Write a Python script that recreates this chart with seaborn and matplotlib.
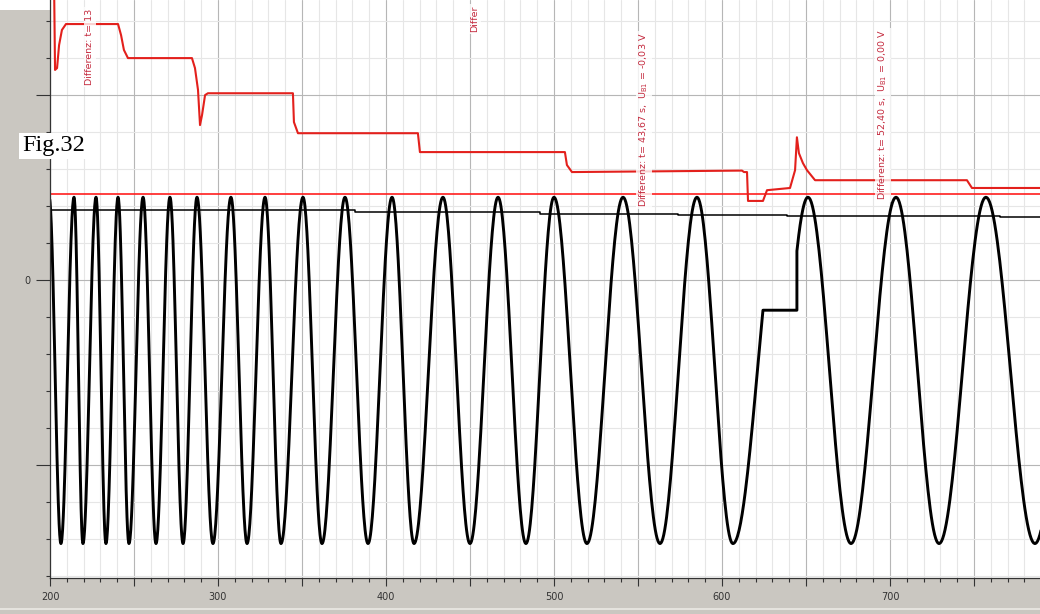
import numpy as np
import matplotlib
matplotlib.use("Agg")
import matplotlib.pyplot as plt
import seaborn as sns
from matplotlib.ticker import MultipleLocator, FuncFormatter
from matplotlib.patches import Rectangle
from matplotlib.lines import Line2D

# ---------------- data ----------------
# times of the oscillation extrema (peak, trough, peak, ...)
wave_ext_t = [199.5, 206.5, 214.3, 219.6, 227.4, 233.3, 240.5, 247.0, 255.4, 263.1,
              271.4, 279.2, 287.5, 297.0, 307.7, 317.3, 328.0, 337.5, 350.6, 361.9,
              375.6, 389.3, 403.6, 416.7, 433.9, 450.0, 466.7, 483.3, 500.0, 519.6,
              541.1, 563.1, 585.1, 606.5, 651.2, 676.8, 703.6, 729.2, 757.1, 786.3, 815.0]
wave_peak = 2.24
wave_trough = -7.12
# data dropout during one rising flank (signal held, then resumed)
dropout_start, dropout_end = 624.4, 644.6
dropout_rise_half = 29.2

# red step trace (upper)
red_t = [202.4, 203.0, 204.2, 205.4, 207.1, 209.5, 240.5, 242.3, 244.0, 246.4,
         284.5, 286.3, 288.1, 289.3, 290.5, 292.3, 294.0, 344.6, 345.2, 347.6,
         419.0, 420.2, 506.5, 507.7, 510.7, 611.9, 613.1, 614.9, 615.5, 624.4,
         626.8, 640.5, 643.5, 644.6, 645.8, 648.2, 650.6, 655.4, 745.8, 748.8, 789.3]
red_v = [8.11, 5.68, 5.73, 6.35, 6.76, 6.92, 6.92, 6.62, 6.22, 6.00,
         6.00, 5.73, 5.14, 4.19, 4.46, 5.00, 5.05, 5.05, 4.27, 3.97,
         3.97, 3.46, 3.46, 3.11, 2.92, 2.96, 2.92, 2.92, 2.14, 2.14,
         2.43, 2.49, 2.97, 3.86, 3.43, 3.16, 2.97, 2.70, 2.70, 2.49, 2.49]

# red horizontal reference level
red_level_t = [200.0, 789.3]
red_level_v = [2.33, 2.33]

# black slowly drifting level (stepwise)
black_level_t = [200.0, 381.5, 491.7, 573.8, 638.7, 765.5, 789.3]
black_level_v = [1.89, 1.84, 1.78, 1.76, 1.73, 1.70, 1.70]

# cursor annotations: (x, y_bottom, text)
ann_x = [223.8, 453.0, 553.6, 695.8]
ann_y = [5.27, 6.70, 1.97, 2.16]
ann_text = ["Differenz: t= 13",
            "Differ",
            "Differenz: t= 43,67 s,  U$_{\\mathrm{B1}}$ = -0,03 V",
            "Differenz: t= 52,40 s,  U$_{\\mathrm{B1}}$ = 0,00 V"]

x_min, x_max = 200.0, 789.3
y_min, y_max = -8.05, 7.57

# ---------------- build oscillation curve from extrema ----------------
wave_ext_v = [wave_peak if i % 2 == 0 else wave_trough for i in range(len(wave_ext_t))]
wt, wy = [], []
for i in range(len(wave_ext_t) - 1):
    t0, t1 = wave_ext_t[i], wave_ext_t[i + 1]
    v0, v1 = wave_ext_v[i], wave_ext_v[i + 1]
    if t0 < dropout_start < t1:
        tt = np.linspace(t0, dropout_start, 40)
        yy = v0 + (v1 - v0) * (1 - np.cos(np.pi * (tt - t0) / dropout_rise_half)) / 2
        hold = yy[-1]
        wt += list(tt) + [dropout_end]
        wy += list(yy) + [hold]
        h = wave_ext_t[i + 2] - t1
        tt = np.linspace(dropout_end, t1, 25)
        yy = v0 + (v1 - v0) * (1 + np.cos(np.pi * (t1 - tt) / h)) / 2
        wt += list(tt)
        wy += list(yy)
    else:
        tt = np.linspace(t0, t1, 40)
        yy = v0 + (v1 - v0) * (1 - np.cos(np.pi * (tt - t0) / (t1 - t0))) / 2
        wt += list(tt)
        wy += list(yy)
wt = np.array(wt)
wy = np.array(wy)

# ---------------- figure ----------------
sns.set_theme(style="white")
plt.rcParams['font.family'] = ['DejaVu Sans']

W, H = 1040, 614
bg = "#cac7c1"
fig = plt.figure(figsize=(W / 100, H / 100), dpi=100, facecolor=bg)
ax = fig.add_axes([50 / W, 1 - 578 / H, 1 - 50 / W, 578 / H])
ax.set_facecolor("white")

ax.set_xlim(x_min, x_max)
ax.set_ylim(y_min, y_max)

ax.xaxis.set_major_locator(MultipleLocator(50))
ax.xaxis.set_minor_locator(MultipleLocator(10))
ax.xaxis.set_major_formatter(FuncFormatter(lambda v, p: f"{int(round(v))}" if round(v) % 100 == 0 else ""))
ax.yaxis.set_major_locator(MultipleLocator(5))
ax.yaxis.set_minor_locator(MultipleLocator(1))
ax.yaxis.set_major_formatter(FuncFormatter(lambda v, p: "0" if abs(v) < 1e-9 else ""))

ax.grid(which="minor", color="#e6e6e6", lw=0.8)
ax.grid(which="major", color="#b6b6b6", lw=0.8)
ax.set_axisbelow(True)

ax.tick_params(axis="x", which="major", direction="out", length=6, width=0.8,
               color="#333333", labelsize=7, labelcolor="#333333", pad=4, bottom=True)
ax.tick_params(axis="x", which="minor", direction="out", length=3, width=0.8,
               color="#333333", bottom=True)
ax.tick_params(axis="y", which="major", direction="out", length=10, width=0.8,
               color="#333333", labelsize=7, labelcolor="#333333", pad=4, left=True)
ax.tick_params(axis="y", which="minor", direction="out", length=3, width=0.8,
               color="#333333", left=True)

for s in ["top", "right"]:
    ax.spines[s].set_visible(False)
for s in ["left", "bottom"]:
    ax.spines[s].set_color("#333333")
    ax.spines[s].set_linewidth(0.9)

# lines
sns.lineplot(x=np.array(black_level_t), y=np.array(black_level_v), ax=ax, color="black",
             lw=1.1, sort=False, estimator=None, drawstyle="steps-post")
sns.lineplot(x=wt, y=wy, ax=ax, color="black", lw=2.1, sort=False, estimator=None)
sns.lineplot(x=np.array(red_level_t), y=np.array(red_level_v), ax=ax, color="#ff1e1e",
             lw=1.2, sort=False, estimator=None)
sns.lineplot(x=np.array(red_t), y=np.array(red_v), ax=ax, color="#e3201c",
             lw=1.5, sort=False, estimator=None)

# annotations
for x, y, s in zip(ann_x, ann_y, ann_text):
    ax.text(x, y, s, rotation=90, ha="center", va="bottom", color="#c42a3e",
            fontsize=6.8, family=["Liberation Sans Narrow", "DejaVu Sans"],
            bbox=dict(boxstyle="square,pad=0.15", fc="white", ec="none", alpha=0.8),
            clip_on=True, zorder=5)

# top-left white strip, bottom light line
fig.add_artist(Rectangle((0, 1 - 10 / H), 50 / W, 10 / H, transform=fig.transFigure,
                         fc="white", ec="none", zorder=0))
fig.add_artist(Line2D([0, 1], [1 - 609 / H, 1 - 609 / H], transform=fig.transFigure,
                      color="#ebe9e5", lw=1.2))

# Fig label
fig.text(22 / W, 1 - 146 / H, "Fig.32", ha="left", va="center", fontsize=17.5,
         family=["Liberation Serif", "DejaVu Serif"], color="black",
         bbox=dict(boxstyle="square,pad=0.12", fc="white", ec="none"), zorder=10)

fig.savefig("out.png", dpi=100, facecolor=bg)
